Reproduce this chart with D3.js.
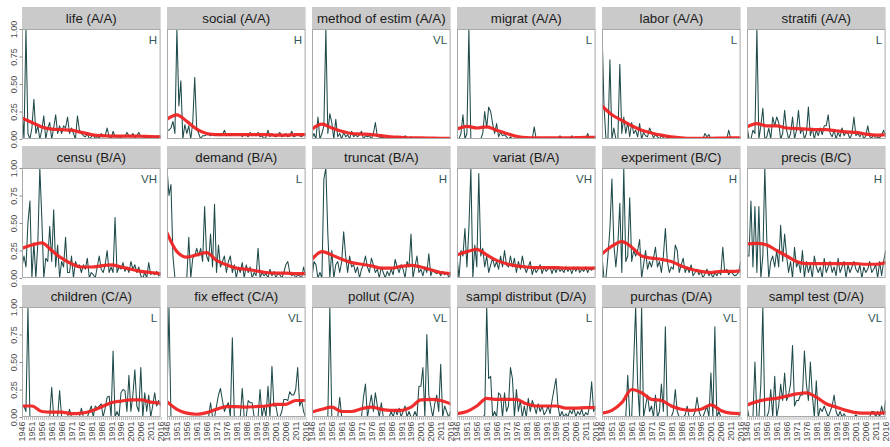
<!DOCTYPE html>
<html><head><meta charset="utf-8">
<script src="https://cdn.jsdelivr.net/npm/d3@7"></script>
<style>body{margin:0;background:#fff}svg{display:block;font-family:"Liberation Sans",Arial,sans-serif}</style>
</head><body><svg id="c" width="890" height="447"></svg>
<script>
// ---- data ----
const years = d3.range(1946, 2017);
const tickYears = [1946,1951,1956,1961,1966,1971,1976,1981,1986,1991,1996,2001,2006,2011,2016];
const smoothYears = tickYears;
const yTicks = [0, 0.25, 0.5, 0.75, 1];

const panelTitles = ["life (A/A)","social (A/A)","method of estim (A/A)","migrat (A/A)","labor (A/A)","stratifi (A/A)",
  "censu (B/A)","demand (B/A)","truncat (B/A)","variat (B/A)","experiment (B/C)","precis (B/C)",
  "children (C/A)","fix effect (C/A)","pollut (C/A)","sampl distribut (D/A)","purchas (D/A)","sampl test (D/A)"];
const panelLevels = ["H","H","VL","L","L","L","VH","L","H","VH","H","H","L","VL","VL","L","VL","VL"];

const life = [0.28,0.00,1.00,0.05,0.00,0.10,0.36,0.05,0.12,0.00, 0.08,0.21,0.00,0.10,0.15,0.00,0.10,0.22,0.05,0.12,
  0.05,0.12,0.10,0.20,0.05,0.10,0.05,0.00,0.21,0.08, 0.05,0.03,0.02,0.05,0.00,0.02,0.04,0.00,0.03,0.00,
  0.05,0.02,0.03,0.10,0.02,0.00,0.07,0.02,0.03,0.00, 0.02,0.03,0.02,0.06,0.03,0.02,0.05,0.01,0.03,0.06,
  0.02,0.02,0.03,0.02,0.01,0.02,0.00,0.02,0.01,0.03, 0.02];
const social = [0.08,0.08,0.10,0.16,0.05,1.00,0.30,0.53,0.00,0.13, 0.05,0.12,0.00,0.15,0.56,0.10,0.05,0.00,0.03,0.03,
  0.04,0.04,0.03,0.04,0.03,0.04,0.04,0.03,0.04,0.08, 0.03,0.04,0.03,0.05,0.03,0.05,0.04,0.05,0.02,0.05,
  0.04,0.02,0.06,0.03,0.04,0.03,0.06,0.02,0.03,0.00, 0.02,0.08,0.02,0.05,0.03,0.02,0.04,0.06,0.02,0.03,
  0.05,0.02,0.03,0.07,0.02,0.03,0.04,0.03,0.02,0.05, 0.04];
const methodEstim = [0.00,0.05,0.00,0.20,0.00,0.05,0.12,1.00,0.05,0.23, 0.15,0.00,0.18,0.02,0.05,0.00,0.06,0.02,0.04,0.00,
  0.07,0.02,0.04,0.02,0.04,0.07,0.00,0.03,0.02,0.03, 0.00,0.05,0.15,0.02,0.02,0.01,0.02,0.00,0.01,0.02,
  0.00,0.01,0.02,0.00,0.01,0.02,0.00,0.03,0.01,0.00, 0.02,0.00,0.01,0.00,0.01,0.00,0.01,0.00,0.00,0.01,
  0.00,0.01,0.00,0.00,0.01,0.00,0.00,0.01,0.00,0.00, 0.00];
const migrat = [0.00,0.00,0.05,0.22,0.00,0.05,1.00,0.00,0.00,0.00, 0.00,0.00,0.00,0.05,0.25,0.10,0.29,0.25,0.14,0.05,
  0.14,0.02,0.06,0.03,0.04,0.02,0.00,0.02,0.00,0.01, 0.00,0.01,0.00,0.01,0.00,0.00,0.01,0.00,0.00,0.11,
  0.00,0.00,0.01,0.00,0.00,0.01,0.00,0.00,0.00,0.01, 0.00,0.00,0.03,0.00,0.00,0.01,0.00,0.00,0.03,0.00,
  0.00,0.01,0.00,0.00,0.01,0.00,0.05,0.00,0.00,0.01, 0.00];
const labor = [1.00,0.30,0.00,0.00,0.72,0.00,0.10,0.00,0.00,0.68, 0.05,0.20,0.05,0.15,0.02,0.15,0.05,0.08,0.02,0.14,
  0.00,0.06,0.03,0.02,0.10,0.06,0.01,0.04,0.02,0.00, 0.03,0.01,0.00,0.02,0.03,0.00,0.01,0.00,0.00,0.01,
  0.00,0.00,0.01,0.00,0.00,0.00,0.01,0.00,0.00,0.00, 0.00,0.00,0.05,0.02,0.04,0.00,0.00,0.01,0.00,0.00,
  0.00,0.00,0.01,0.00,0.08,0.00,0.00,0.00,0.01,0.00, 0.00];
const stratifi = [0.12,0.00,0.00,0.08,0.05,1.00,0.00,0.12,0.28,0.00, 0.02,0.10,0.00,0.20,0.12,0.20,0.15,0.00,0.05,0.26,
  0.08,0.00,0.05,0.20,0.00,0.08,0.26,0.05,0.10,0.00, 0.05,0.29,0.03,0.10,0.00,0.08,0.03,0.10,0.04,0.12,
  0.12,0.22,0.05,0.02,0.08,0.00,0.06,0.02,0.10,0.03, 0.06,0.05,0.00,0.05,0.20,0.03,0.05,0.02,0.06,0.00,
  0.03,0.12,0.02,0.01,0.04,0.00,0.02,0.01,0.04,0.08, 0.02];
const censu = [0.10,0.20,0.10,0.50,0.70,0.00,0.32,0.00,0.32,1.00, 0.55,0.00,0.18,0.15,0.47,0.15,0.62,0.10,0.30,0.00,
  0.15,0.10,0.37,0.05,0.05,0.20,0.00,0.15,0.10,0.12, 0.05,0.12,0.08,0.18,0.00,0.05,0.03,0.00,0.10,0.20,
  0.08,0.05,0.12,0.25,0.05,0.10,0.05,0.55,0.05,0.10, 0.08,0.14,0.06,0.10,0.05,0.15,0.08,0.12,0.05,0.10,
  0.02,0.00,0.05,0.00,0.14,0.03,0.05,0.03,0.06,0.02, 0.04];
const demand = [1.00,0.75,0.85,0.20,0.00,0.00,0.00,0.00,0.00,0.00, 0.00,0.37,0.00,0.18,0.20,0.27,0.20,0.27,0.15,0.65,
  0.20,0.15,0.40,0.10,0.67,0.05,0.30,0.10,0.15,0.20, 0.05,0.15,0.20,0.05,0.12,0.00,0.10,0.05,0.14,0.00,
  0.12,0.05,0.10,0.00,0.05,0.02,0.27,0.00,0.05,0.02, 0.04,0.00,0.08,0.02,0.06,0.00,0.04,0.03,0.00,0.05,
  0.12,0.15,0.05,0.02,0.04,0.00,0.03,0.02,0.00,0.10, 0.02];
const truncat = [0.00,0.15,0.12,0.00,0.05,0.00,0.90,1.00,0.40,0.00, 0.25,0.00,0.12,0.15,0.05,0.15,0.42,0.20,0.05,0.20,
  0.10,0.12,0.05,0.10,0.00,0.08,0.12,0.20,0.10,0.05, 0.18,0.12,0.05,0.08,0.00,0.10,0.05,0.00,0.06,0.02,
  0.08,0.03,0.17,0.10,0.05,0.12,0.08,0.00,0.15,0.10, 0.40,0.00,0.10,0.20,0.05,0.08,0.02,0.10,0.05,0.22,
  0.02,0.08,0.05,0.04,0.06,0.02,0.06,0.03,0.05,0.01, 0.03];
const variat = [0.20,0.00,0.25,0.20,0.45,0.10,0.45,1.00,0.00,0.30, 0.10,0.95,0.20,0.27,0.10,0.20,0.05,0.12,0.18,0.10,
  0.15,0.08,0.20,0.10,0.25,0.12,0.10,0.20,0.10,0.18, 0.05,0.15,0.08,0.20,0.10,0.05,0.10,0.15,0.03,0.10,
  0.05,0.08,0.12,0.04,0.10,0.06,0.08,0.10,0.04,0.10, 0.05,0.10,0.06,0.08,0.05,0.10,0.06,0.09,0.04,0.10,
  0.06,0.10,0.05,0.08,0.06,0.10,0.05,0.09,0.07,0.10, 0.08];
const experiment = [0.20,0.00,0.00,0.20,0.45,0.90,0.30,0.10,0.30,0.68, 0.05,1.00,0.15,0.20,0.73,0.15,0.25,0.20,0.25,0.35,
  0.00,0.12,0.25,0.08,0.15,0.10,0.18,0.28,0.10,0.15, 0.05,0.20,0.45,0.15,0.05,0.10,0.08,0.30,0.25,0.05,
  0.12,0.18,0.05,0.10,0.05,0.12,0.02,0.05,0.08,0.03, 0.06,0.00,0.04,0.08,0.02,0.05,0.00,0.05,0.02,0.06,
  0.03,0.28,0.05,0.08,0.03,0.06,0.04,0.02,0.03,0.05, 0.15];
const precis = [0.20,0.20,0.70,0.10,0.65,0.05,0.65,0.00,0.20,1.00, 0.35,0.00,0.15,0.20,0.10,0.25,0.10,0.48,0.15,0.40,
  0.20,0.05,0.15,0.00,0.28,0.10,0.15,0.05,0.25,0.00, 0.15,0.05,0.12,0.00,0.20,0.10,0.05,0.10,0.00,0.18,
  0.05,0.10,0.15,0.05,0.10,0.02,0.18,0.05,0.10,0.15, 0.00,0.12,0.05,0.10,0.15,0.08,0.05,0.12,0.00,0.10,
  0.05,0.08,0.15,0.05,0.08,0.12,0.00,0.15,0.02,0.15, 0.25];
const children = [0.10,0.10,0.05,1.00,0.00,0.00,0.00,0.00,0.00,0.00, 0.00,0.00,0.00,0.00,0.00,0.27,0.00,0.00,0.00,0.24,
  0.00,0.00,0.00,0.00,0.07,0.00,0.00,0.00,0.00,0.00, 0.08,0.00,0.00,0.00,0.05,0.10,0.00,0.10,0.08,0.10,
  0.12,0.00,0.08,0.18,0.19,0.00,0.60,0.00,0.05,0.00, 0.22,0.25,0.24,0.05,0.38,0.05,0.20,0.43,0.10,0.05,
  0.45,0.00,0.22,0.05,0.20,0.00,0.10,0.22,0.10,0.15, 0.10];
const fixEffect = [0.15,1.00,0.00,0.00,0.00,0.00,0.00,0.00,0.00,0.00, 0.00,0.00,0.00,0.00,0.00,0.00,0.00,0.00,0.00,0.00,
  0.00,0.00,0.13,0.00,0.00,0.10,0.20,0.26,0.15,0.05, 0.10,0.13,0.00,0.72,0.00,0.00,0.00,0.00,0.26,0.00,
  0.00,0.15,0.13,0.13,0.00,0.00,0.00,0.25,0.00,0.10, 0.00,0.28,0.00,0.46,0.10,0.10,0.00,0.00,0.05,0.16,
  0.16,0.15,0.23,0.20,0.20,0.25,0.45,0.10,0.15,0.05, 0.00];
const pollut = [0.00,0.00,0.00,0.00,0.00,0.00,0.00,0.00,0.00,1.00, 0.00,0.00,0.00,0.00,0.18,0.00,0.00,0.00,0.00,0.00,
  0.00,0.00,0.00,0.00,0.00,0.00,0.18,0.30,0.00,0.10, 0.20,0.05,0.22,0.10,0.00,0.13,0.00,0.00,0.00,0.00,
  0.05,0.00,0.07,0.02,0.08,0.00,0.05,0.10,0.00,0.05, 0.00,0.00,0.05,0.00,0.28,0.28,0.45,0.00,0.75,0.20,
  0.10,0.00,0.12,0.20,0.05,0.48,0.00,0.10,0.05,0.00, 0.05];
const samplDistribut = [0.00,0.00,0.00,0.00,0.00,0.00,0.00,0.00,0.00,0.00, 0.00,0.00,0.00,0.00,0.02,1.00,0.35,0.37,0.00,0.05,
  0.00,0.22,0.20,0.00,0.22,0.05,0.10,0.45,0.35,0.00, 0.25,0.05,0.15,0.00,0.10,0.00,0.17,0.05,0.15,0.10,
  0.03,0.12,0.05,0.10,0.02,0.05,0.10,0.03,0.15,0.25, 0.35,0.10,0.00,0.05,0.00,0.03,0.00,0.06,0.03,0.08,
  0.00,0.05,0.02,0.07,0.00,0.04,0.02,0.10,0.32,0.05, 0.08];
const purchas = [0.00,0.00,0.00,0.00,0.00,0.00,0.00,0.00,0.00,0.00, 0.00,0.00,0.00,0.38,0.00,0.00,0.50,1.00,0.30,0.00,
  1.00,0.00,0.10,0.20,0.05,0.10,0.00,0.20,0.00,0.05, 0.30,0.05,0.82,0.00,0.00,0.00,0.05,0.25,0.05,0.00,
  0.00,0.00,0.02,0.10,0.00,0.00,0.00,0.05,0.18,0.05, 0.00,0.00,0.05,0.10,0.00,0.40,0.00,0.82,0.00,0.05,
  0.00,0.00,0.00,0.00,0.00,0.00,0.00,0.00,0.00,0.00, 0.05];
const samplTest = [0.10,0.00,0.00,0.00,0.50,0.00,0.00,0.30,1.00,0.00, 0.00,0.05,0.25,0.00,0.37,0.00,0.10,0.30,0.15,0.40,
  0.15,0.20,0.30,0.65,0.10,0.15,0.15,0.20,0.20,0.60, 0.30,0.15,0.50,0.20,0.00,0.33,0.00,0.08,0.05,0.10,
  0.05,0.00,0.05,0.10,0.20,0.05,0.00,0.05,0.00,0.03, 0.00,0.00,0.00,0.00,0.00,0.02,0.00,0.00,0.00,0.00,
  0.00,0.00,0.00,0.05,0.05,0.00,0.05,0.00,0.10,0.02, 0.15];

// smoothed trend (red), read at 1946, 1951, ..., 2016
const lifeTrend = [0.19,0.15,0.11,0.09,0.085,0.08,0.06,0.04,0.03,0.027,0.027,0.027,0.025,0.022,0.02];
const socialTrend = [0.18,0.22,0.16,0.09,0.05,0.04,0.04,0.04,0.04,0.04,0.04,0.035,0.035,0.04,0.04];
const methodEstimTrend = [0.09,0.135,0.10,0.07,0.05,0.045,0.04,0.03,0.02,0.015,0.01,0.01,0.008,0.006,0.005];
const migratTrend = [0.09,0.115,0.10,0.11,0.08,0.05,0.025,0.012,0.01,0.01,0.01,0.01,0.012,0.015,0.015];
const laborTrend = [0.30,0.22,0.17,0.12,0.08,0.055,0.035,0.02,0.01,0.005,0.005,0.006,0.008,0.01,0.01];
const stratifiTrend = [0.11,0.14,0.12,0.12,0.10,0.095,0.09,0.085,0.085,0.075,0.065,0.06,0.045,0.035,0.04];
const censuTrend = [0.27,0.30,0.32,0.25,0.18,0.13,0.10,0.10,0.11,0.12,0.10,0.08,0.06,0.05,0.04];
const demandTrend = [0.41,0.24,0.19,0.21,0.23,0.16,0.12,0.09,0.08,0.065,0.05,0.045,0.045,0.04,0.04];
const truncatTrend = [0.17,0.24,0.21,0.17,0.14,0.125,0.11,0.09,0.09,0.105,0.115,0.10,0.075,0.05,0.04];
const variatTrend = [0.21,0.24,0.26,0.21,0.16,0.13,0.11,0.10,0.095,0.095,0.095,0.09,0.09,0.09,0.09];
const experimentTrend = [0.22,0.29,0.33,0.28,0.20,0.18,0.17,0.15,0.11,0.08,0.06,0.05,0.06,0.06,0.065];
const precisTrend = [0.31,0.315,0.30,0.25,0.20,0.15,0.13,0.13,0.13,0.13,0.13,0.13,0.125,0.125,0.14];
const childrenTrend = [0.10,0.10,0.05,0.045,0.045,0.03,0.035,0.055,0.09,0.13,0.145,0.155,0.155,0.135,0.125];
const fixEffectTrend = [0.14,0.07,0.035,0.025,0.04,0.07,0.095,0.095,0.09,0.095,0.10,0.115,0.115,0.15,0.15];
const pollutTrend = [0.045,0.07,0.09,0.05,0.05,0.075,0.09,0.07,0.06,0.06,0.09,0.155,0.16,0.15,0.12];
const samplDistributTrend = [0.03,0.05,0.10,0.17,0.16,0.16,0.16,0.12,0.10,0.10,0.10,0.08,0.08,0.085,0.085];
const purchasTrend = [0.035,0.06,0.13,0.25,0.22,0.16,0.15,0.10,0.07,0.06,0.07,0.11,0.06,0.035,0.03];
const samplTestTrend = [0.11,0.14,0.16,0.17,0.19,0.21,0.22,0.18,0.12,0.09,0.06,0.04,0.035,0.035,0.04];

const panelSeries = [life,social,methodEstim,migrat,labor,stratifi,censu,demand,truncat,variat,experiment,precis,
  children,fixEffect,pollut,samplDistribut,purchas,samplTest];
const panelTrends = [lifeTrend,socialTrend,methodEstimTrend,migratTrend,laborTrend,stratifiTrend,censuTrend,demandTrend,
  truncatTrend,variatTrend,experimentTrend,precisTrend,childrenTrend,fixEffectTrend,pollutTrend,samplDistributTrend,
  purchasTrend,samplTestTrend];

// ---- layout ----
const svg = d3.select("#c");
const ncol = 6, left0 = 22, colStep = 145, pw = 138.6;
const top0 = 7, rowStep = 139, stripH = 22, ph = 110;

const x = d3.scaleLinear().domain([1946, 2016]).range([0, pw]);
const y = d3.scaleLinear().domain([0, 1]).range([ph, 0]);
const line = d3.line().x((d, i) => x(years[i])).y(d => y(d));
const trend = d3.line().x((d, i) => x(smoothYears[i])).y(d => y(d)).curve(d3.curveMonotoneX);

const defs = svg.append("defs");
defs.append("clipPath").attr("id", "clip").append("rect").attr("x", 0).attr("y", 0).attr("width", pw).attr("height", ph);

panelTitles.forEach((title, i) => {
  const c = i % ncol, r = Math.floor(i / ncol);
  const px = left0 + c * colStep, sy = top0 + r * rowStep, py = sy + stripH;
  // strip
  svg.append("rect").attr("x", px).attr("y", sy).attr("width", pw).attr("height", stripH).attr("fill", "#cacaca");
  svg.append("text").attr("x", px + pw / 2).attr("y", sy + 16.2).attr("text-anchor", "middle")
    .attr("font-size", "13.3px").attr("fill", "#1a1a1a").text(title);
  const g = svg.append("g").attr("transform", `translate(${px},${py})`);
  g.append("rect").attr("width", pw).attr("height", ph).attr("fill", "#fff");
  const pg = g.append("g").attr("clip-path", "url(#clip)");
  pg.append("path").datum(panelSeries[i]).attr("d", line).attr("fill", "none")
    .attr("stroke", "#1f4b4b").attr("stroke-width", 1.05).attr("stroke-linejoin", "round");
  pg.append("path").datum(panelTrends[i]).attr("d", trend).attr("fill", "none")
    .attr("stroke", "#ef2323").attr("stroke-width", 3.2).attr("stroke-opacity", 0.95).attr("stroke-linecap", "round");
  g.append("rect").attr("x", 0.5).attr("y", 0.5).attr("width", pw - 1).attr("height", ph - 1)
    .attr("fill", "none").attr("stroke", "#a9a9a9").attr("stroke-width", 1);
  g.append("text").attr("x", pw - 3.5).attr("y", 14.5).attr("text-anchor", "end")
    .attr("font-size", "11.5px").attr("fill", "#2e5757").text(panelLevels[i]);

  if (c === 0) {
    const ya = g.append("g").call(d3.axisLeft(y).tickValues(yTicks).tickFormat(d3.format(".2f")).tickSize(2.5));
    ya.select(".domain").remove();
    ya.selectAll(".tick line").attr("stroke", "#8c8c8c");
    ya.selectAll(".tick text").attr("x", null).attr("dy", null).attr("text-anchor", "middle")
      .attr("transform", "translate(-5.5,0) rotate(-90)").attr("font-size", "9px").attr("fill", "#4d4d4d")
      .attr("font-family", "Liberation Sans, Arial, sans-serif");
  }
  if (r === 2) {
    const xa = g.append("g").attr("transform", `translate(0,${ph})`)
      .call(d3.axisBottom(x).tickValues(years).tickSize(3)
        .tickFormat(d => tickYears.includes(d) ? String(d) : ""));
    xa.select(".domain").remove();
    xa.selectAll(".tick line").attr("stroke", "#bdbdbd");
    xa.selectAll(".tick text").attr("y", null).attr("dy", "0.33em").attr("x", -4.5).attr("text-anchor", "end")
      .attr("transform", "rotate(-90)").attr("font-size", "9px").attr("fill", "#4d4d4d")
      .attr("font-family", "Liberation Sans, Arial, sans-serif");
  }
});
</script></body></html>
